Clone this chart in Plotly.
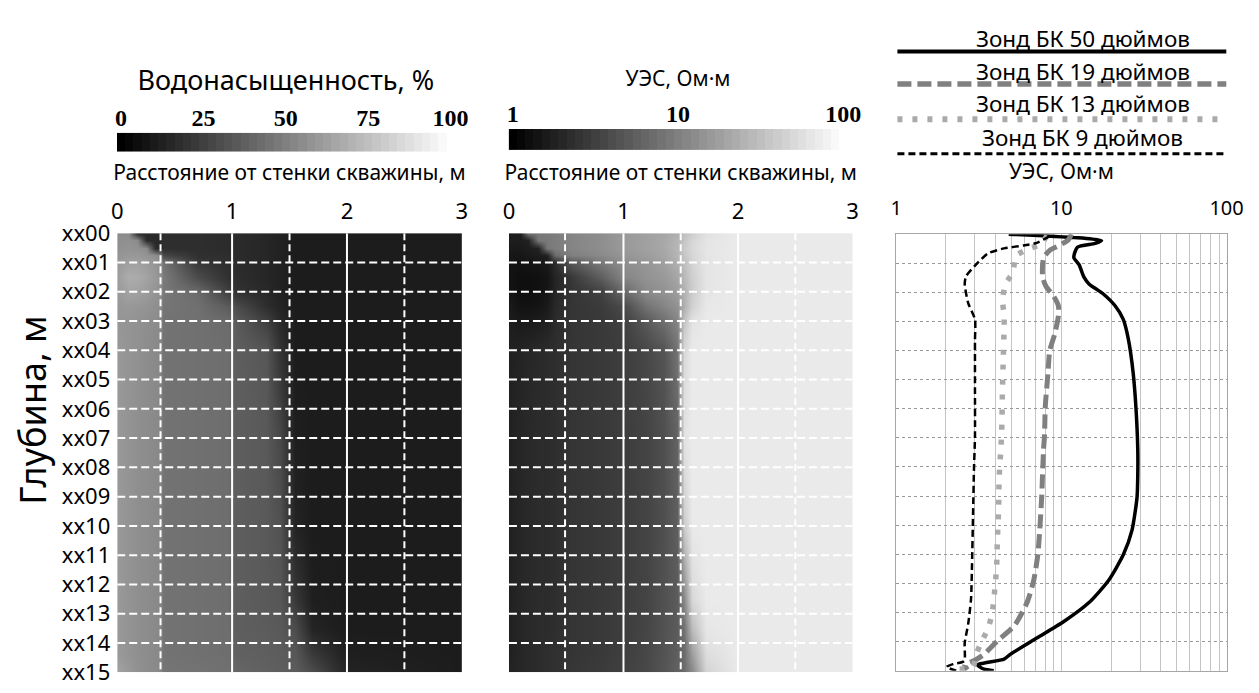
import numpy as np
import plotly.graph_objects as go

# ---------------- data ----------------
DEPTH_TICKS = list(range(16))
DEPTH_LABELS = ["xx%02d" % i for i in DEPTH_TICKS]
DIST_TICKS = [0, 1, 2, 3]

# Water saturation, % (rows = depth, columns = distance from borehole wall, m)
X_SW = [0.0, 0.1, 0.17, 0.25, 0.33, 0.37, 0.40, 0.7, 0.97, 1.03, 1.3, 1.42, 1.55, 1.7, 2.0, 3.0]
D_SW = [0.0, 0.25, 0.5, 0.75, 1.0, 1.5, 2.0, 2.5, 3.0, 4.0, 7.0, 10.0, 12.5, 13.5, 14.3, 15.0]
SW = [
    [55, 55, 17, 16, 16, 16, 18, 18, 17, 17, 15, 13, 11, 11, 11, 11],
    [56, 57, 55, 17, 16, 16, 18, 18, 17, 17, 15, 13, 11, 11, 11, 11],
    [57, 58, 57, 55, 17, 16, 18, 18, 17, 17, 15, 13, 11, 11, 11, 11],
    [58, 60, 60, 58, 56, 50, 28, 19, 18, 17, 15, 13, 11, 11, 11, 11],
    [60, 63, 63, 61, 58, 55, 45, 22, 18, 17, 15, 13, 11, 11, 11, 11],
    [62, 68, 67, 64, 60, 57, 48, 30, 19, 18, 15, 13, 11, 11, 11, 11],
    [60, 64, 63, 61, 58, 56, 47, 42, 25, 20, 16, 13, 11, 11, 11, 11],
    [59, 60, 59, 58, 56, 55, 46, 44, 36, 30, 18, 14, 11, 11, 11, 11],
    [59, 58, 57, 56, 55, 54, 45, 44, 42, 36, 25, 16, 11, 11, 11, 11],
    [60, 58, 57, 55, 54, 53, 45, 44, 43, 37, 34, 20, 11, 11, 11, 11],
    [60, 58, 56, 55, 54, 53, 45, 44, 43, 37, 35, 28, 12, 11, 11, 11],
    [60, 58, 56, 55, 54, 53, 45, 44, 43, 37, 35, 32, 14, 11, 11, 11],
    [60, 58, 56, 55, 54, 53, 45, 44, 43, 37, 35, 34, 22, 12, 11, 11],
    [60, 58, 56, 55, 54, 53, 45, 44, 43, 37, 36, 35, 30, 14, 11, 11],
    [60, 58, 56, 55, 54, 53, 45, 44, 43, 38, 37, 36, 34, 22, 12, 11],
    [64, 60, 57, 55, 54, 53, 46, 45, 44, 40, 38, 37, 36, 30, 14, 11],
]

# Resistivity, Ohm*m
X_R = [0.0, 0.1, 0.17, 0.25, 0.33, 0.40, 0.55, 0.8, 1.0, 1.2, 1.35, 1.47, 1.53, 1.6, 1.72, 2.0, 3.0]
D_R = [0.0, 0.25, 0.5, 0.75, 1.0, 1.5, 2.0, 2.5, 3.0, 4.0, 7.0, 10.0, 12.5, 13.5, 14.3, 15.0]
RES = [
    [1.7, 1.7, 8.0, 8.5, 9.0, 9.5, 11, 13, 16, 18, 20, 24, 32, 42, 58, 69, 69],
    [1.7, 1.7, 1.8, 8.5, 9.0, 9.5, 11, 13, 16, 18, 21, 26, 36, 48, 62, 69, 69],
    [1.6, 1.6, 1.7, 1.8, 8.5, 9.5, 11, 13, 16, 18, 21, 27, 38, 50, 63, 69, 69],
    [1.5, 1.5, 1.6, 1.7, 1.8, 7.0, 10, 12, 15, 17, 20, 26, 36, 48, 62, 69, 69],
    [1.4, 1.4, 1.45, 1.5, 1.6, 2.2, 5.0, 9.0, 13, 15, 18, 24, 32, 46, 62, 69, 69],
    [1.4, 1.3, 1.3, 1.35, 1.45, 1.9, 2.8, 5.5, 11, 14, 16, 20, 28, 42, 62, 69, 69],
    [1.45, 1.3, 1.3, 1.35, 1.5, 2.0, 2.6, 3.2, 6.5, 12, 14, 17, 25, 40, 63, 69, 69],
    [1.6, 1.4, 1.4, 1.45, 1.6, 2.1, 2.6, 2.9, 3.8, 8.0, 11, 14, 24, 45, 66, 69, 69],
    [1.7, 1.6, 1.6, 1.7, 1.8, 2.2, 2.6, 2.8, 3.2, 5.0, 7.5, 11, 35, 60, 68, 69, 69],
    [1.8, 1.9, 2.0, 2.1, 2.2, 2.3, 2.6, 2.8, 3.0, 3.6, 4.6, 8.0, 50, 68, 69, 69, 69],
    [1.8, 2.0, 2.1, 2.2, 2.2, 2.3, 2.6, 2.8, 3.0, 3.4, 4.2, 6.0, 60, 69, 69, 69, 69],
    [1.8, 2.0, 2.1, 2.2, 2.2, 2.3, 2.6, 2.8, 3.0, 3.4, 4.2, 5.5, 40, 68, 69, 69, 69],
    [1.8, 2.0, 2.1, 2.2, 2.2, 2.3, 2.6, 2.8, 3.0, 3.4, 4.3, 5.2, 12, 50, 68, 69, 69],
    [1.8, 2.0, 2.1, 2.2, 2.2, 2.3, 2.6, 2.8, 3.0, 3.5, 4.4, 5.2, 8.0, 30, 64, 69, 69],
    [1.8, 2.0, 2.1, 2.2, 2.3, 2.4, 2.6, 2.8, 3.1, 3.6, 4.5, 5.5, 7.0, 18, 55, 69, 69],
    [1.9, 2.0, 2.1, 2.2, 2.3, 2.4, 2.7, 2.9, 3.2, 3.7, 4.6, 5.8, 7.0, 12, 45, 68, 69],
]

# Colour-scale strips
CB_SW = [i * 2.5 for i in range(41)]            # 0 ... 100 %
CB_SW_TICKS = [0, 25, 50, 75, 100]
CB_R_LOG = [i * 0.05 for i in range(41)]        # log10(1) ... log10(100)
CB_R_TICKS = [0, 1, 2]
CB_R_LABELS = ["1", "10", "100"]

# Laterolog curves (depth, resistivity)
D50 = [0.0, 0.12, 0.22, 0.32, 0.45, 0.8, 1.05, 1.48, 1.71, 2.04, 2.47, 2.93, 3.59, 4.77, 6.0, 7.4, 8.3,
       9.05, 10.16, 11.02, 11.9, 12.66, 13.32, 13.88, 14.44, 14.6, 14.8, 14.95, 15.0]
R50 = [4.8, 12.0, 17.5, 16.0, 12.5, 11.9, 12.8, 13.7, 14.7, 17.8, 21.2, 23.7, 25.4, 27.2, 28.3, 29.0, 29.0,
       28.7, 26.8, 23.7, 19.3, 14.7, 10.3, 7.1, 4.9, 4.5, 3.1, 3.4, 3.9]

D19 = [0.0, 0.2, 0.39, 0.56, 0.82, 1.48, 1.81, 2.14, 2.47, 2.8, 3.45, 4.01, 4.77, 5.89, 6.97, 7.4, 9.05,
       10.16, 11.02, 11.9, 12.66, 13.45, 13.98, 14.44, 14.64, 14.8, 14.97]
R19 = [11.5, 11.0, 9.7, 8.5, 7.8, 7.7, 8.1, 9.0, 9.6, 9.6, 9.1, 8.5, 8.3, 8.0, 7.9, 7.8, 7.6,
       7.4, 7.2, 6.8, 6.2, 5.2, 4.1, 3.4, 3.0, 2.6, 2.7]

D13 = [0.05, 0.35, 0.5, 0.75, 1.3, 1.71, 2.27, 2.76, 3.26, 4.28, 5.33, 6.88, 7.4, 8.4, 9.44, 10.5, 11.5,
       12.57, 13.06, 13.55, 14.05, 14.47, 14.87, 14.95]
R13 = [8.2, 7.5, 6.4, 5.3, 5.1, 4.6, 4.4, 4.5, 4.5, 4.45, 4.4, 4.35, 4.3, 4.2, 4.17, 4.1, 4.05,
       3.9, 3.8, 3.6, 3.26, 3.04, 2.92, 2.4]

D9 = [0.07, 0.3, 0.39, 0.49, 0.66, 1.05, 1.45, 1.71, 2.37, 2.93, 3.68, 5.33, 6.97, 8.03, 9.67, 11.32,
      12.53, 13.39, 14.05, 14.67, 14.77, 14.87, 15.0]
R9 = [8.5, 7.1, 5.9, 4.5, 3.6, 3.04, 2.65, 2.6, 2.73, 3.0, 3.0, 3.0, 3.0, 2.96, 2.92, 2.88,
      2.84, 2.73, 2.6, 2.58, 2.22, 2.02, 2.31]

LOG_TICKS = [1, 2, 3, 4, 5, 6, 7, 8, 9, 10, 20, 30, 40, 50, 60, 70, 80, 90, 100]
LOG_LABELS = ["1", "", "", "", "", "", "", "", "", "10", "", "", "", "", "", "", "", "", "100"]

CURVES = [
    ("Зонд БК 50 дюймов", D50, R50, dict(color="black", width=3.5, dash="solid")),
    ("Зонд БК 19 дюймов", D19, R19, dict(color="#808080", width=5, dash="14px,6px")),
    ("Зонд БК 13 дюймов", D13, R13, dict(color="#aaaaaa", width=5.5, dash="5px,10px")),
    ("Зонд БК 9 дюймов", D9, R9, dict(color="black", width=2.5, dash="7px,4px")),
]

# ---------------- figure ----------------
# the page body margin is removed (post_script below), so page pixels = figure pixels
W, H = 1259, 693


def px(x):
    return x / W


def py(y):
    return 1 - y / H


FONT = "Noto Sans"
GRAY = [[0, "black"], [1, "white"]]

fig = go.Figure()

fig.add_trace(go.Heatmap(x=X_SW, y=D_SW, z=SW, coloraxis="coloraxis", zsmooth="best",
                         xaxis="x", yaxis="y", hoverinfo="skip"))
fig.add_trace(go.Heatmap(x=X_R, y=D_R, z=np.log10(np.array(RES)), coloraxis="coloraxis2",
                         zsmooth="best", xaxis="x2", yaxis="y2", hoverinfo="skip"))
fig.add_trace(go.Heatmap(x=CB_SW, y=[0], z=[CB_SW], coloraxis="coloraxis",
                         xaxis="x4", yaxis="y4", hoverinfo="skip"))
fig.add_trace(go.Heatmap(x=CB_R_LOG, y=[0], z=[CB_R_LOG], coloraxis="coloraxis2",
                         xaxis="x5", yaxis="y5", hoverinfo="skip"))

for name, d, r, ln in CURVES:
    fig.add_trace(go.Scatter(x=r, y=d, name=name, mode="lines", xaxis="x3", yaxis="y3",
                             line=dict(shape="spline", smoothing=0.6, **ln), showlegend=False))

# white grid over the heatmaps
shapes = []
for xref, yref, dashed_x in (("x", "y", [0.377, 1.5, 2.5]), ("x2", "y2", [0.49, 1.5, 2.5])):
    for d in range(1, 15):
        shapes.append(dict(type="line", xref=xref, yref=yref, x0=0, x1=3, y0=d, y1=d,
                           line=dict(color="white", width=2, dash="8px,4px"), layer="above"))
    for xv in [1, 2]:
        shapes.append(dict(type="line", xref=xref, yref=yref, x0=xv, x1=xv, y0=0, y1=15,
                           line=dict(color="white", width=2), layer="above"))
    for xv in dashed_x:
        shapes.append(dict(type="line", xref=xref, yref=yref, x0=xv, x1=xv, y0=0, y1=15,
                           line=dict(color="white", width=2, dash="7px,4px"), layer="above"))

# legend of the curve panel: caption above a line sample
LEG_TEXT_Y = [24, 58, 91, 127]
LEG_LINE_Y = [37, 71, 108, 144]
annotations = []
for (name, _, _, ln), ty, ly in zip(CURVES, LEG_TEXT_Y, LEG_LINE_Y):
    shapes.append(dict(type="line", xref="paper", yref="paper", x0=px(908), x1=px(1243),
                       y0=py(ly), y1=py(ly),
                       line=dict(color=ln["color"], width=ln["width"] + 0.5, dash=ln["dash"])))
    annotations.append(dict(text=name, xref="paper", yref="paper", x=px(1097), y=py(ty),
                            showarrow=False, xanchor="center", yanchor="middle",
                            font=dict(family=FONT, size=22.5, color="black")))

# depth-axis caption (placed as in the reference, off-centre of the track)
annotations.append(dict(text="Глубина, м", xref="paper", yref="paper", x=px(27), y=py(412),
                        showarrow=False, textangle=-90, xanchor="center", yanchor="middle",
                        font=dict(family=FONT, size=36, color="black")))

tickfont = dict(family=FONT, size=22, color="black")
titlefont = dict(family=FONT, size=21, color="black")
cbfont = dict(family="Liberation Serif", size=24, color="black", weight="bold")

heat_y = [py(686), py(227)]
fig.update_layout(
    width=W, height=H,
    margin=dict(l=0, r=0, t=0, b=0),
    paper_bgcolor="white", plot_bgcolor="white",
    font=dict(family=FONT, color="black"),
    showlegend=False,
    coloraxis=dict(colorscale=GRAY, cmin=0, cmax=100, showscale=False),
    coloraxis2=dict(colorscale=GRAY, cmin=0, cmax=2, showscale=False),
    xaxis=dict(domain=[px(113.3), px(464.3)], anchor="y", range=[0, 3], side="top",
               tickvals=DIST_TICKS, showgrid=False, zeroline=False, ticks="",
               ticklabelstandoff=9, tickfont=tickfont, ticklabeloverflow="allow",
               title=dict(text="Расстояние от стенки скважины, м", font=titlefont, standoff=8)),
    yaxis=dict(domain=heat_y, anchor="x", range=[15, 0], tickvals=DEPTH_TICKS,
               ticktext=DEPTH_LABELS, showgrid=False, zeroline=False, ticks="",
               ticklabelstandoff=6, tickfont=tickfont, ticklabeloverflow="allow"),
    xaxis2=dict(domain=[px(512.3), px(862.3)], anchor="y2", range=[0, 3], side="top",
                tickvals=DIST_TICKS, showgrid=False, zeroline=False, ticks="",
                ticklabelstandoff=9, tickfont=tickfont, ticklabeloverflow="allow",
                title=dict(text="Расстояние от стенки скважины, м", font=titlefont, standoff=8)),
    yaxis2=dict(domain=heat_y, anchor="x2", range=[15, 0], showticklabels=False,
                showgrid=False, zeroline=False, ticks=""),
    xaxis3=dict(domain=[px(906.7), px(1243.3)], anchor="y3", type="log", range=[0, 2],
                side="top", tickvals=LOG_TICKS, ticktext=LOG_LABELS, ticks="",
                showgrid=True, gridcolor="#c4c4c4", gridwidth=1, zeroline=False,
                showline=True, linecolor="#a6a6a6", linewidth=1, mirror=True,
                ticklabelstandoff=10, ticklabeloverflow="allow",
                tickfont=dict(family=FONT, size=20, color="black"),
                title=dict(text="УЭС, Ом·м", font=titlefont, standoff=8)),
    yaxis3=dict(domain=[py(684.3), py(228)], anchor="x3", range=[15, 0], dtick=1,
                showticklabels=False, ticks="", showgrid=True, gridcolor="#999999",
                griddash="dot", gridwidth=1, zeroline=False,
                showline=True, linecolor="#a6a6a6", linewidth=1, mirror=True),
    xaxis4=dict(domain=[px(113), px(457)], anchor="y4", range=[-1.25, 101.25], side="top",
                tickvals=CB_SW_TICKS, showgrid=False, zeroline=False, ticks="",
                ticklabelstandoff=1, tickfont=cbfont, ticklabeloverflow="allow",
                title=dict(text="Водонасыщенность, %",
                           font=dict(family=FONT, size=27, color="black"), standoff=6)),
    yaxis4=dict(domain=[py(142), py(122)], anchor="x4", visible=False),
    xaxis5=dict(domain=[px(512), px(857)], anchor="y5", range=[-0.025, 2.025], side="top",
                tickvals=CB_R_TICKS, ticktext=CB_R_LABELS, showgrid=False, zeroline=False,
                ticks="", ticklabelstandoff=1, tickfont=cbfont, ticklabeloverflow="allow",
                title=dict(text="УЭС, Ом·м", font=titlefont, standoff=8)),
    yaxis5=dict(domain=[py(140), py(118)], anchor="x5", visible=False),
    shapes=shapes,
    annotations=annotations,
)

fig.write_html("out.html", config={"displayModeBar": False},
               post_script="document.body.style.margin='0px';document.body.style.overflow='hidden';")
